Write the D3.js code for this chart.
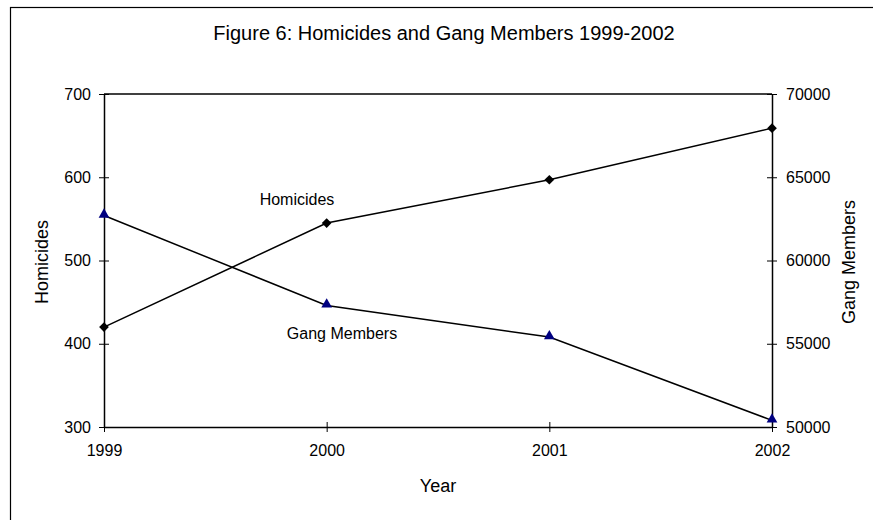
<!DOCTYPE html>
<html>
<head>
<meta charset="utf-8">
<script src="https://cdn.jsdelivr.net/npm/d3@7"></script>
<style>
  body { margin: 0; background: #fff; }
  text { font-family: "Liberation Sans", Arial, sans-serif; fill: #000; }
</style>
</head>
<body>
<div id="chart"></div>
<script>
// Data
const years = ["1999", "2000", "2001", "2002"];
const homicides = [420, 545, 597, 659];
const gangMembers = [62700, 57300, 55400, 50400];
const leftTicks = [300, 400, 500, 600, 700];
const rightTicks = [50000, 55000, 60000, 65000, 70000];

const width = 873;
const height = 520;
const plot = { left: 104, right: 772, top: 94, bottom: 427 };

const svg = d3
  .select("#chart")
  .append("svg")
  .attr("width", width)
  .attr("height", height);

// Outer chart border (runs off the bottom/right of the picture)
svg
  .append("rect")
  .attr("x", 10.5)
  .attr("y", 7.5)
  .attr("width", 900)
  .attr("height", 560)
  .attr("fill", "none")
  .attr("stroke", "#000")
  .attr("stroke-width", 1.2);

// Scales
const x = d3.scalePoint().domain(years).range([plot.left, plot.right]).padding(0);
const yLeft = d3.scaleLinear().domain([300, 700]).range([plot.bottom, plot.top]);
const yRight = d3.scaleLinear().domain([50000, 70000]).range([plot.bottom, plot.top]);

// Top border of plot area
svg
  .append("line")
  .attr("x1", plot.left)
  .attr("x2", plot.right)
  .attr("y1", plot.top)
  .attr("y2", plot.top)
  .attr("stroke", "#000")
  .attr("stroke-width", 1.5);

// Axes with ticks crossing the axis line
function styleAxis(g) {
  g.selectAll(".domain").attr("stroke", "#000").attr("stroke-width", 1.5);
  g.selectAll(".tick line").attr("stroke", "#000").attr("stroke-width", 1);
  g.selectAll(".tick text")
    .style("font-family", '"Liberation Sans", Arial, sans-serif')
    .style("font-size", "16px")
    .attr("fill", "#000");
}

const gLeft = svg
  .append("g")
  .attr("transform", `translate(${plot.left},0)`)
  .call(d3.axisLeft(yLeft).tickValues(leftTicks).tickSize(5).tickSizeOuter(0).tickPadding(8));
gLeft.selectAll(".tick line").attr("x2", 5).attr("x1", -5);
styleAxis(gLeft);

const gRight = svg
  .append("g")
  .attr("transform", `translate(${plot.right},0)`)
  .call(
    d3.axisRight(yRight).tickValues(rightTicks).tickFormat(d3.format("d"))
      .tickSize(5).tickSizeOuter(0).tickPadding(9)
  );
gRight.selectAll(".tick line").attr("x1", -5).attr("x2", 5);
styleAxis(gRight);

const gBottom = svg
  .append("g")
  .attr("transform", `translate(0,${plot.bottom})`)
  .call(d3.axisBottom(x).tickSize(5).tickSizeOuter(0).tickPadding(13));
gBottom.selectAll(".tick line").attr("y1", -5).attr("y2", 5);
styleAxis(gBottom);

// Lines
const homLine = d3
  .line()
  .x((d, i) => x(years[i]))
  .y((d) => yLeft(d));
const gangLine = d3
  .line()
  .x((d, i) => x(years[i]))
  .y((d) => yRight(d));

svg
  .append("path")
  .datum(homicides)
  .attr("d", homLine)
  .attr("fill", "none")
  .attr("stroke", "#000")
  .attr("stroke-width", 1.5);

svg
  .append("path")
  .datum(gangMembers)
  .attr("d", gangLine)
  .attr("fill", "none")
  .attr("stroke", "#000")
  .attr("stroke-width", 1.5);

// Markers
svg
  .selectAll(".diamond")
  .data(homicides)
  .enter()
  .append("path")
  .attr("class", "diamond")
  .attr("d", d3.symbol().type(d3.symbolDiamond2).size(60))
  .attr("transform", (d, i) => `translate(${x(years[i])},${yLeft(d)})`)
  .attr("fill", "#000");

svg
  .selectAll(".tri")
  .data(gangMembers)
  .enter()
  .append("path")
  .attr("class", "tri")
  .attr("d", d3.symbol().type(d3.symbolTriangle).size(50))
  .attr("transform", (d, i) => `translate(${x(years[i])},${yRight(d) - 1})`)
  .attr("fill", "#000080");

// Title
svg
  .append("text")
  .attr("x", 444)
  .attr("y", 40)
  .attr("text-anchor", "middle")
  .style("font-size", "20px")
  .text("Figure 6: Homicides and Gang Members 1999-2002");

// Axis titles
svg
  .append("text")
  .attr("x", 438)
  .attr("y", 492)
  .attr("text-anchor", "middle")
  .style("font-size", "18px")
  .text("Year");

svg
  .append("text")
  .attr("transform", "translate(48,262) rotate(-90)")
  .attr("text-anchor", "middle")
  .style("font-size", "18px")
  .text("Homicides");

svg
  .append("text")
  .attr("transform", "translate(855,262) rotate(-90)")
  .attr("text-anchor", "middle")
  .style("font-size", "18px")
  .text("Gang Members");

// Series labels
svg
  .append("text")
  .attr("x", 297)
  .attr("y", 205)
  .attr("text-anchor", "middle")
  .style("font-size", "16px")
  .text("Homicides");

svg
  .append("text")
  .attr("x", 342)
  .attr("y", 339)
  .attr("text-anchor", "middle")
  .style("font-size", "16px")
  .text("Gang Members");
</script>
</body>
</html>
